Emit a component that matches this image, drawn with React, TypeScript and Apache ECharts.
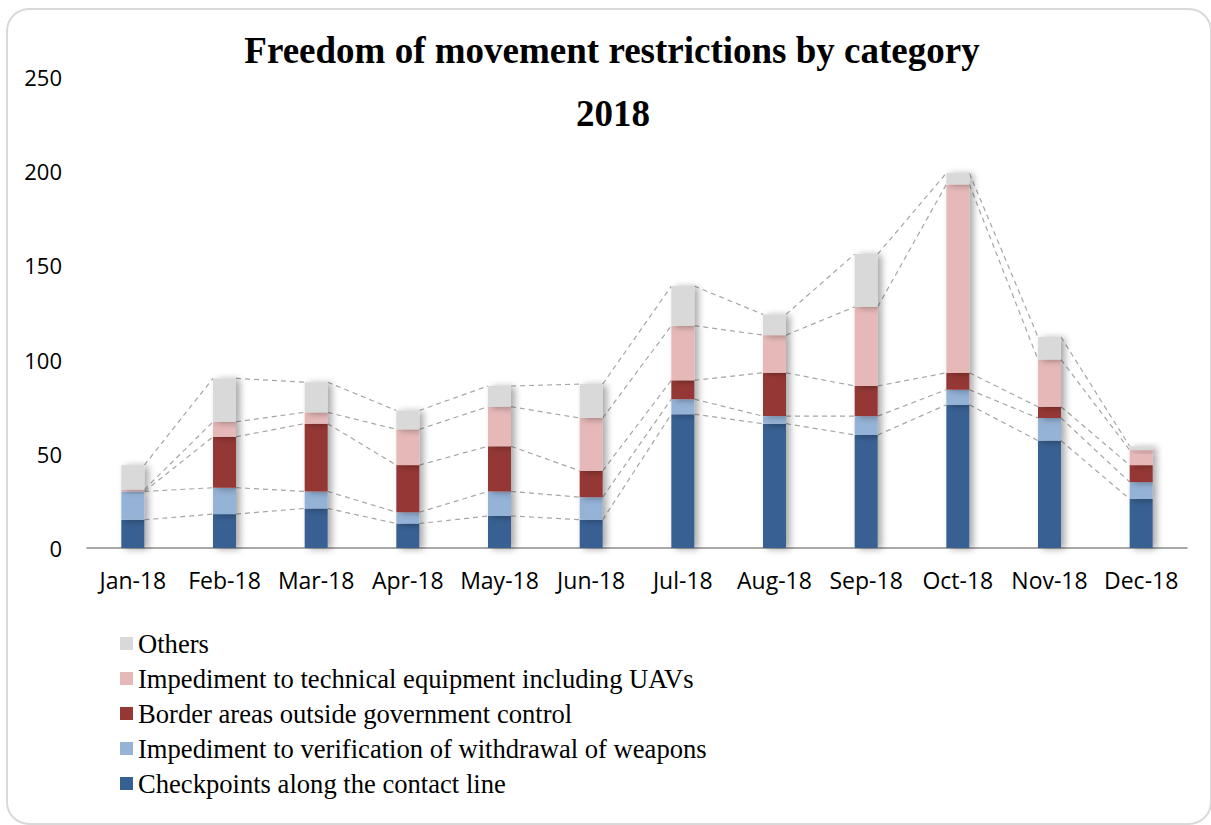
import React, { useEffect, useRef } from "react";
import * as echarts from "echarts";

const months = ["Jan-18", "Feb-18", "Mar-18", "Apr-18", "May-18", "Jun-18", "Jul-18", "Aug-18", "Sep-18", "Oct-18", "Nov-18", "Dec-18"];
const checkpoints = [15, 18, 21, 13, 17, 15, 71, 66, 60, 76, 57, 26];
const verification = [15, 14, 9, 6, 13, 12, 8, 4, 10, 8, 12, 9];
const border = [0, 27, 36, 25, 24, 14, 10, 23, 16, 9, 6, 9];
const technical = [1, 8, 6, 19, 21, 28, 29, 20, 42, 100, 25, 8];
const others = [13, 23, 16, 10, 11, 18, 21, 11, 28, 6, 12, 2];

const seriesNames = [
  "Checkpoints along the contact line",
  "Impediment to verification of withdrawal of weapons",
  "Border areas outside government control",
  "Impediment to technical equipment including UAVs",
  "Others",
];
const seriesData = [checkpoints, verification, border, technical, others];
const colors = ["#376092", "#95b3d7", "#953735", "#e6b9b8", "#d9d9d9"];
const yTicks = { min: 0, max: 250, interval: 50 };

const BAR_W = 23;

export default function App() {
  const ref = useRef<HTMLDivElement>(null);
  useEffect(() => {
    const chart = echarts.init(ref.current!, null, { renderer: "svg" });

    const cums: number[][] = [];
    seriesData.forEach((arr, k) => {
      cums.push(arr.map((v, i) => (k === 0 ? 0 : cums[k - 1][i]) + v));
    });

    const barSeries = seriesData.map((arr, k) => ({
      name: seriesNames[k],
      type: "bar",
      stack: "total",
      barWidth: BAR_W,
      data: arr,
      z: 3,
      itemStyle: {
        color: colors[k],
        shadowColor: "rgba(0,0,0,0.35)",
        shadowBlur: 7,
        shadowOffsetX: 4,
        shadowOffsetY: 1,
      },
    }));

    const lineSeries = cums.map((cum, k) => ({
      name: "sl" + k,
      type: "custom",
      z: 2,
      silent: true,
      encode: { x: 0, y: 1 },
      data: cum.slice(0, -1).map((v, i) => [i, v, cum[i + 1]]),
      renderItem: (params: any, api: any) => {
        const i = api.value(0);
        const p1 = api.coord([i, api.value(1)]);
        const p2 = api.coord([i + 1, api.value(2)]);
        return {
          type: "line",
          shape: { x1: p1[0] + BAR_W / 2, y1: p1[1], x2: p2[0] - BAR_W / 2, y2: p2[1] },
          style: { stroke: "#a6a6a6", lineWidth: 1.2, lineDash: [5, 4] },
        };
      },
    }));

    chart.setOption({
      animation: false,
      backgroundColor: "#ffffff",
      graphic: [
        {
          type: "rect",
          shape: { x: 7, y: 9, width: 1204, height: 815, r: 22 },
          style: { fill: "none", stroke: "#d9d9d9", lineWidth: 2 },
          z: 0,
        },
        {
          type: "text",
          x: 612,
          y: 50,
          style: {
            text: "Freedom of movement restrictions by category",
            fontFamily: "Liberation Serif",
            fontWeight: "bold",
            fontSize: 37,
            fill: "#000",
            align: "center",
            verticalAlign: "middle",
          },
        },
        {
          type: "text",
          x: 613,
          y: 113,
          style: {
            text: "2018",
            fontFamily: "Liberation Serif",
            fontWeight: "bold",
            fontSize: 37,
            fill: "#000",
            align: "center",
            verticalAlign: "middle",
          },
        },
      ],
      grid: { left: 87, right: 24, top: 77, bottom: 277, containLabel: false },
      legend: {
        orient: "vertical",
        left: 115,
        top: 625,
        itemWidth: 13,
        itemHeight: 13,
        itemGap: 8,
        icon: "rect",
        data: [...seriesNames].reverse(),
        textStyle: { fontFamily: "Liberation Serif", fontSize: 26.6, color: "#000", lineHeight: 26 },
      },
      xAxis: {
        type: "category",
        data: months,
        axisTick: { show: false },
        axisLine: { lineStyle: { color: "#8c8c8c", width: 1.5 } },
        axisLabel: { interval: 0, fontFamily: "Open Sans", fontSize: 23, color: "#000", margin: 20 },
      },
      yAxis: {
        type: "value",
        min: yTicks.min,
        max: yTicks.max,
        interval: yTicks.interval,
        splitLine: { show: false },
        axisLine: { show: false },
        axisTick: { show: false },
        axisLabel: { fontFamily: "Open Sans", fontSize: 22, color: "#000", margin: 25 },
      },
      series: [...lineSeries, ...barSeries],
    });
    return () => chart.dispose();
  }, []);
  return (
    <div
      ref={ref}
      style={{ position: "absolute", left: 0, top: 0, width: 1211, height: 825, background: "#fff" }}
    />
  );
}
